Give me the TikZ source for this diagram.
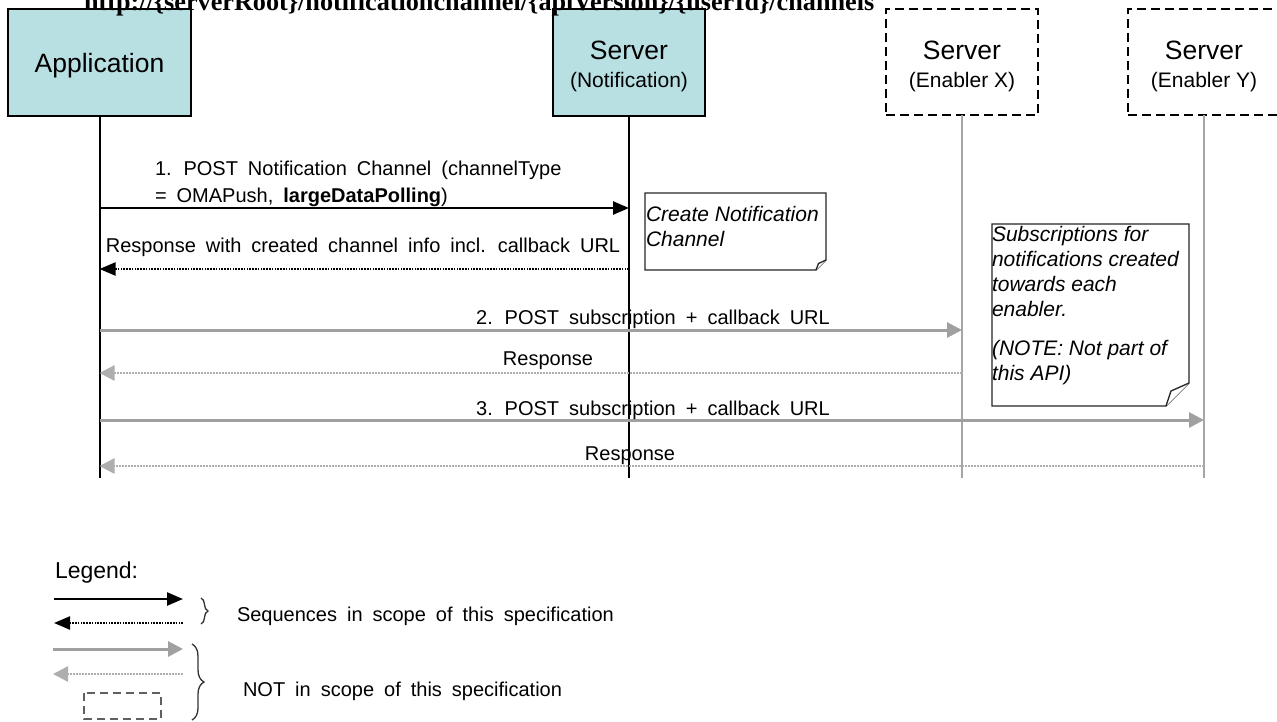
\documentclass[tikz,border=0pt]{standalone}
\usepackage{fontspec}
\setmainfont{Liberation Sans}
\newfontfamily\titlefont{Liberation Serif}
\newfontfamily\lab[WordSpace=1.8]{Liberation Sans}
\usetikzlibrary{arrows.meta,decorations.pathreplacing}
\definecolor{boxfill}{HTML}{B8DFE2}
\definecolor{lgray}{HTML}{A6A6A6}
\definecolor{agray}{HTML}{A0A0A0}
\definecolor{dgray}{HTML}{606060}
\begin{document}
\begin{tikzpicture}[x=1pt,y=-1pt,
  every node/.style={inner sep=0pt,outer sep=0pt},
  actorbox/.style={draw=black,line width=2pt,fill=boxfill,minimum width=#1,minimum height=107pt},
  extbox/.style={draw=black,line width=2pt,dash pattern=on 9pt off 5pt,minimum width=152pt,minimum height=106pt},
  bigtxt/.style={font=\fontsize{26.5}{30}\selectfont,anchor=base},
  subtxt/.style={font=\fontsize{21}{25}\selectfont,anchor=base},
  labtxt/.style={font=\lab\fontsize{20}{24}\selectfont},
  notetxt/.style={font=\itshape\fontsize{21}{25}\selectfont,anchor=base west},
  lifeblack/.style={line width=2pt,black},
  lifegray/.style={line width=2.5pt,lgray},
  blackmsg/.style={line width=2.5pt,black,-{Triangle[length=16pt,width=13pt]}},
  blackret/.style={line width=2.2pt,black,dash pattern=on 1.6pt off 1.2pt,-{Triangle[length=16pt,width=13pt]}},
  graymsg/.style={line width=3pt,agray,-{Triangle[length=15pt,width=15pt]}},
  grayret/.style={line width=2.5pt,agray!85!white,dash pattern=on 1.8pt off 1.2pt,-{Triangle[length=15pt,width=15pt]}},
  notebox/.style={draw=black!85,line width=1.3pt,fill=white,line join=miter},
  bracestyle/.style={draw=black!80,line width=1.3pt,decorate}
]
\useasboundingbox (0,0) rectangle (1277,721);

% participant boxes
\node[actorbox=183pt] (app) at (99.5,62.5) {};
\node[actorbox=152pt] (ns) at (629,62.5) {};
\node[extbox] (ex) at (962,62) {};
\node[extbox] (ey) at (1204,62) {};

\node[bigtxt] (appT) at (99.5,72) {Application};
\node[bigtxt] (nsT) at (629,59) {Server};
\node[subtxt] (nsS) at (629,87) {(Notification)};
\node[bigtxt] (exT) at (962,59) {Server};
\node[subtxt] (exS) at (962,87) {(Enabler X)};
\node[bigtxt] (eyT) at (1204,59) {Server};
\node[subtxt] (eyS) at (1204,87) {(Enabler Y)};

% lifelines
\coordinate (appE) at (99.5,478);
\coordinate (nsE) at (629,478);
\coordinate (exE) at (962,478);
\coordinate (eyE) at (1204,478);
\draw[lifeblack] (app.south) -- (appE);
\draw[lifeblack] (ns.south) -- (nsE);
\draw[lifegray] (ex.south) -- (exE);
\draw[lifegray] (ey.south) -- (eyE);

% message end points
\coordinate (m1a) at (99.5,208);  \coordinate (m1b) at (629,208);
\coordinate (r1a) at (629,269);   \coordinate (r1b) at (99.5,269);
\coordinate (m2a) at (99.5,330);  \coordinate (m2b) at (962,330);
\coordinate (r2a) at (962,373);   \coordinate (r2b) at (99.5,373);
\coordinate (m3a) at (99.5,420);  \coordinate (m3b) at (1204,420);
\coordinate (r3a) at (1204,466);  \coordinate (r3b) at (99.5,466);

\draw[blackmsg] (m1a) -- (m1b);
\draw[blackret] (r1a) -- (r1b);
\draw[graymsg] (m2a) -- (m2b);
\draw[grayret] (r2a) -- (r2b);
\draw[graymsg] (m3a) -- (m3b);
\draw[grayret] (r3a) -- (r3b);

% message labels
\node[labtxt,anchor=base west] (l1a) at (155,175) {1. POST Notification Channel (channelType};
\node[labtxt,anchor=base west] (l1b) at (155,202) {= OMAPush, \textbf{largeDataPolling})};
\node[labtxt,anchor=base] (lr1) at (363,252) {Response with created channel info incl. callback URL};
\node[labtxt,anchor=base] (l2) at (653,324) {2. POST subscription + callback URL};
\node[labtxt,anchor=base] (lr2) at (548,365) {Response};
\node[labtxt,anchor=base] (l3) at (653,415) {3. POST subscription + callback URL};
\node[labtxt,anchor=base] (lr3) at (630,460) {Response};

% notes
\draw[notebox] (645,193) -- (826,193) -- (826,260) -- (816,270) -- (645,270) -- cycle;
\draw[notebox] (816,270) -- (818.5,263.5) -- (826,260);
\node[notetxt] (n1a) at (646,221) {Create Notification};
\node[notetxt] (n1b) at (646,246) {Channel};

\draw[notebox] (992,224) -- (1189,224) -- (1189,383) -- (1166,406) -- (992,406) -- cycle;
\draw[notebox] (1166,406) -- (1171,391) -- (1189,383);
\node[notetxt] (n2a) at (992,241) {Subscriptions for};
\node[notetxt] (n2b) at (992,266) {notifications created};
\node[notetxt] (n2c) at (992,291) {towards each};
\node[notetxt] (n2d) at (992,316) {enabler.};
\node[notetxt] (n2e) at (992,355) {(NOTE: Not part of};
\node[notetxt] (n2f) at (992,380) {this API)};

% legend
\node[font=\fontsize{23}{27}\selectfont,anchor=base west] (leg) at (55,578) {Legend:};
\coordinate (g1a) at (54,599);  \coordinate (g1b) at (183,599);
\coordinate (g2a) at (183,623); \coordinate (g2b) at (54,623);
\coordinate (g3a) at (53,649);  \coordinate (g3b) at (183,649);
\coordinate (g4a) at (183,674); \coordinate (g4b) at (53,674);
\draw[blackmsg] (g1a) -- (g1b);
\draw[blackret] (g2a) -- (g2b);
\draw[graymsg] (g3a) -- (g3b);
\draw[grayret] (g4a) -- (g4b);
\draw[dgray,line width=2pt,dash pattern=on 8pt off 5pt] (84,693) rectangle (161,719);
\draw[bracestyle,decoration={brace,amplitude=7pt}] (201,598) -- (201,624);
\draw[bracestyle,decoration={brace,amplitude=12pt}] (192,644) -- (192,720);
\node[labtxt,anchor=base west] (legA) at (237,621) {Sequences in scope of this specification};
\node[labtxt,anchor=base west] (legB) at (243,696) {NOT in scope of this specification};

% title (cut at top, as in the reference)
\node[anchor=base west,font=\titlefont\bfseries\fontsize{26.2}{30}\selectfont] (title) at (84,10) {http://\{serverRoot\}/notificationchannel/\{apiVersion\}/\{userId\}/channels};
\end{tikzpicture}
\end{document}
